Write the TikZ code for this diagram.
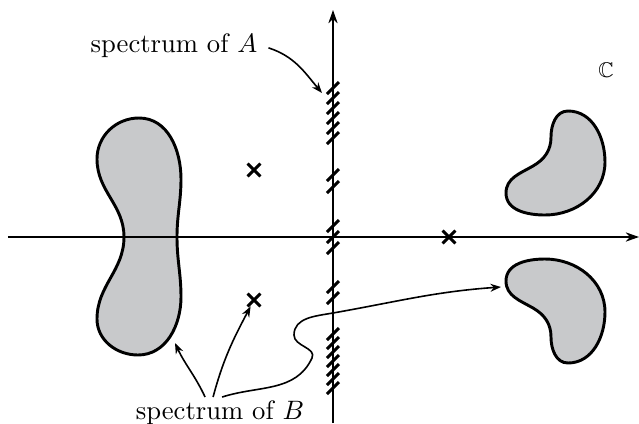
\documentclass[tikz,border=0pt]{standalone}
\usepackage{amsmath,amssymb}
\usepackage{xcolor}
\usetikzlibrary{arrows.meta,shapes.misc}
\definecolor{spectgray}{RGB}{200,201,203}

\begin{document}
\begin{tikzpicture}[x=0.0132cm, y=0.0132cm,
  hatch/.style={line width=1.1pt},
  xmark/.style={cross out, draw, line width=1.1pt, minimum size=0.13cm, inner sep=0pt},
  blob/.style={fill=spectgray, draw, line width=1.1pt},
  pointer/.style={-{Stealth[length=4pt,width=3pt]}, semithick}]
  \useasboundingbox (-333,-186) rectangle (306,237);

  % Spectrum of B (shaded regions)
  \draw[blob] (-209,0) to[out=-90,in=90] (-236,-82) to[out=-90,in=180] (-195,-118)
    to[out=0,in=-90] (-152,-60) to[out=90,in=-90] (-156,0)
    to[out=90,in=-90] (-152,58) to[out=90,in=0] (-194,119)
    to[out=180,in=90] (-236,78) to[out=-90,in=90] (-209,0) -- cycle;
  \foreach \s in {1,-1}
    \draw[blob, yscale=\s] (235,126) to[out=180,in=90] (218,100)
      to[out=-90,in=30] (200,71) to[out=-150,in=90] (173,44)
      to[out=-90,in=180] (212,22) to[out=0,in=-90] (272,75)
      to[out=90,in=0] (235,126) -- cycle;

  % Axes
  \draw[semithick, -{Stealth[length=5pt,width=3.5pt]}] (-325,0) -- (306,0);
  \draw[semithick, -{Stealth[length=5pt,width=3.5pt]}] (0,-186) -- (0,227);

  % Spectrum of A (hatches on the imaginary axis)
  \foreach \y in {99,109,...,149, 50,62, -11,0,11, -50,-61, -97,-106,...,-151}
    \draw[hatch] (-6,{\y-6}) -- (6,{\y+6});

  % Eigenvalues
  \node[xmark] (ev1) at (-79,67) {};
  \node[xmark] (ev2) at (-79,-63) {};
  \node[xmark] (ev3) at (116,0) {};

  \node[font=\footnotesize] (cfield) at (273,167) {$\mathbb{C}$};

  % Labels
  \node[anchor=base, inner sep=1pt] (specA) at (-159,185) {spectrum of $A$};
  \node[anchor=base, inner sep=1pt] (specB) at (-113,-182) {spectrum of $B$};

  \coordinate (hatchtop) at (-11,144);
  \coordinate (blobleft) at (-158,-106);
  \coordinate (blobright) at (168,-50);

  \draw[pointer] ([xshift=3pt,yshift=-1pt]specA.east) to[out=-18,in=130] (hatchtop);
  \draw[pointer] ([xshift=-5.6pt]specB.north) to[out=115,in=-65] (blobleft);
  \draw[pointer] ([xshift=-2.6pt]specB.north) to[out=75,in=-118] (ev2);
  \draw[pointer] ([xshift=0.8pt]specB.north) to[out=18,in=-115] (-21,-121)
    to[out=65,in=-90] (-39,-98) to[out=90,in=190] (0,-76)
    to[out=10,in=184] (blobright);
\end{tikzpicture}
\end{document}
